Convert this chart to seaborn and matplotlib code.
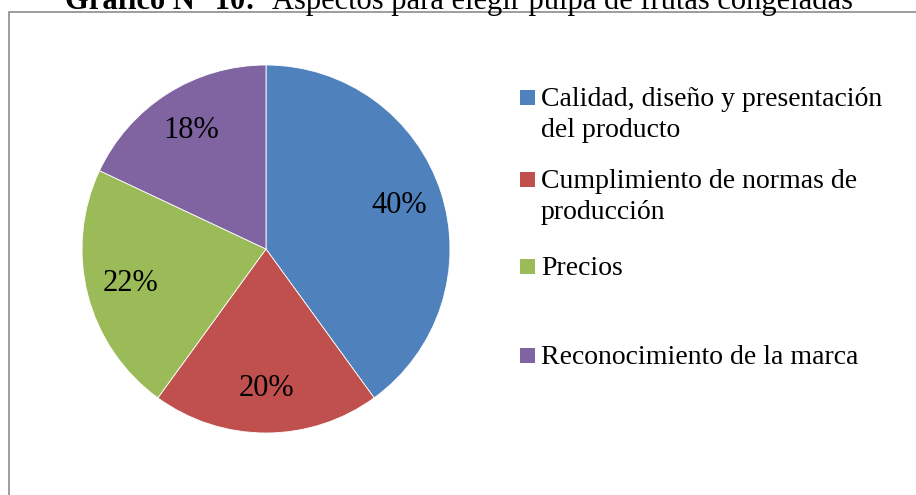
import matplotlib
matplotlib.use("Agg")
import matplotlib.pyplot as plt
from matplotlib.patches import Rectangle
import seaborn as sns

# data
categories = [
    "Calidad, diseño y presentación\ndel producto",
    "Cumplimiento de normas de\nproducción",
    "Precios",
    "Reconocimiento de la marca",
]
shares = [40, 20, 22, 18]
colors = ["#4F81BD", "#C0504D", "#9BBB59", "#8064A2"]

sns.set_theme(style="white")
plt.rcParams['font.family'] = ['Liberation Serif', 'DejaVu Serif']
plt.rcParams['text.color'] = 'black'

fig = plt.figure(figsize=(9.16, 4.95), dpi=100)

# chart frame (grey border, cut by the image edges)
fig.patches.append(Rectangle((9 / 916, -0.05), 1.0, 1 - 12 / 495 + 0.05,
                             transform=fig.transFigure, fill=False,
                             edgecolor="#8c8c8c", linewidth=1.2))

# pie axes: center about (266, 249) px, radius ~184 px
ax = fig.add_axes([(266 - 184) / 916, (495 - 249 - 184) / 495, 368 / 916, 368 / 495])
wedges, texts, autotexts = ax.pie(
    shares, colors=colors, startangle=90, counterclock=False,
    autopct="%1.0f%%", pctdistance=0.76,
    wedgeprops=dict(edgecolor="white", linewidth=0.6),
    textprops=dict(fontsize=22, color="black"),
)
ax.set_xlim(-1, 1)
ax.set_ylim(-1, 1)
ax.set_aspect("equal")
ax.axis("off")

# legend drawn like the Excel one: square at first line of each entry
legend_y = [98, 180, 267, 356]
for label, color, y in zip(categories, colors, legend_y):
    fig.patches.append(Rectangle((520 / 916, 1 - (y + 7) / 495), 15 / 916, 15 / 495,
                                 transform=fig.transFigure, facecolor=color,
                                 edgecolor="none"))
    fig.text(541 / 916, 1 - (y - 11) / 495, label, fontsize=20, va="top",
             ha="left", linespacing=1.3, color="black")

# title, partly cut off at the top edge
fig.text(65 / 916, 1 - 9 / 495, "Gráfico N° 10:", fontsize=22, fontweight="bold",
         ha="left", va="baseline", color="black")
fig.text(272 / 916, 1 - 9 / 495, "Aspectos para elegir pulpa de frutas congeladas",
         fontsize=22, ha="left", va="baseline", color="black")

fig.savefig("out.png", dpi=100)
